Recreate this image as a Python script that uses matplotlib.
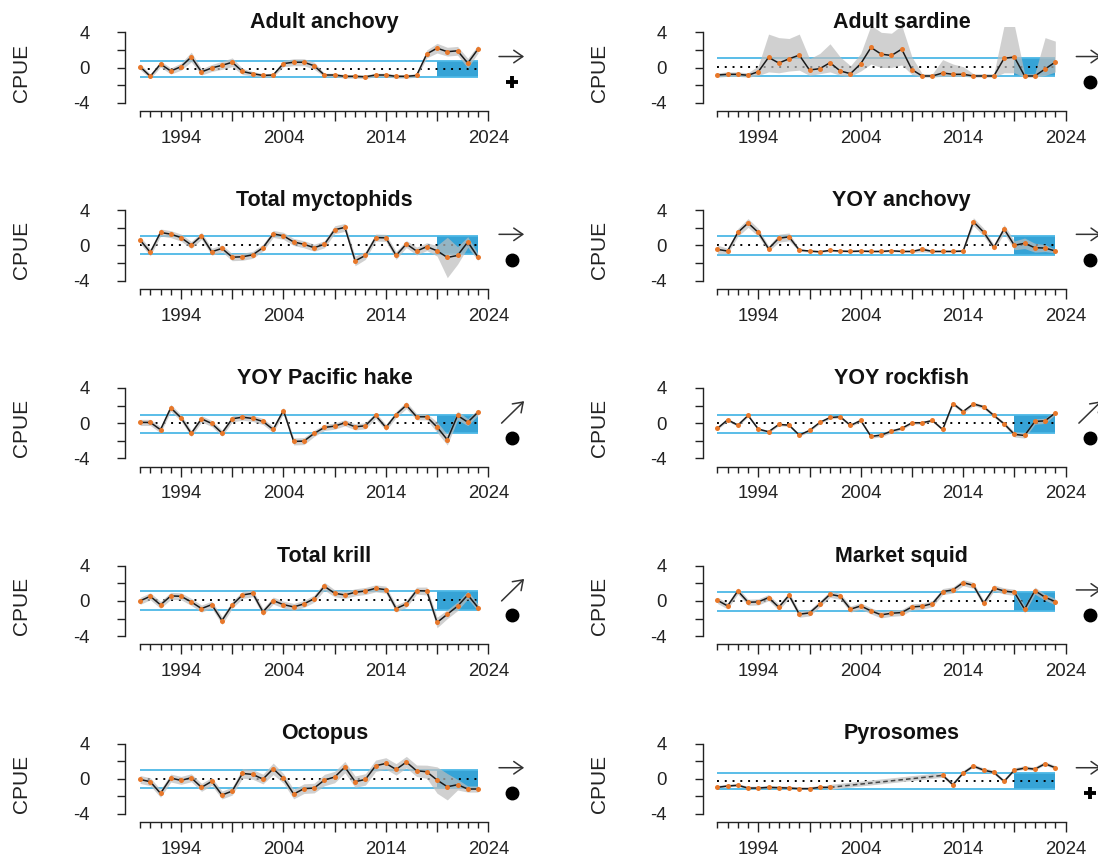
import matplotlib
matplotlib.use('Agg')
import matplotlib.pyplot as plt
import numpy as np

plt.rcParams['font.family'] = ['Liberation Sans', 'DejaVu Sans']
plt.rcParams['axes.unicode_minus'] = False

nan = np.nan
years = np.arange(1990, 2024)

titles = ['Adult anchovy', 'Adult sardine', 'Total myctophids', 'YOY anchovy',
          'YOY Pacific hake', 'YOY rockfish', 'Total krill', 'Market squid',
          'Octopus', 'Pyrosomes']

adult_anchovy = [0.1, -1.0, 0.4, -0.4, 0.1, 1.2, -0.5, -0.05, 0.25, 0.6, -0.45, -0.7, -0.9, -0.85,
                 0.45, 0.6, 0.6, 0.2, -0.85, -0.85, -1.0, -1.0, -1.05, -0.85, -0.85, -1.0, -1.0,
                 -0.9, 1.55, 2.2, 1.8, 1.9, 0.5, 2.1]
adult_sardine = [-0.85, -0.77, -0.77, -0.88, -0.47, 1.15, 0.51, 0.99, 1.41, -0.28, -0.13, 0.55,
                 -0.39, -0.7, 0.43, 2.28, 1.52, 1.37, 2.09, -0.24, -0.96, -0.96, -0.62, -0.77,
                 -0.77, -0.96, -0.96, -0.96, 1.05, 1.19, -0.96, -0.96, -0.17, 0.62]
total_myctophids = [0.62, -0.8, 1.46, 1.27, 0.88, 0.04, 1.08, -0.73, -0.35, -1.35, -1.3, -1.08,
                    -0.27, 1.3, 1.08, 0.38, 0.12, -0.27, 0.12, 1.77, 2.04, -1.77, -1.15, 0.88,
                    0.85, -1.15, 0.15, -0.65, -0.15, -0.62, -1.38, -1.15, 0.38, -1.35]
yoy_anchovy = [-0.46, -0.65, 1.46, 2.54, 1.46, -0.38, 0.81, 0.96, -0.54, -0.65, -0.73, -0.58,
               -0.65, -0.69, -0.65, -0.69, -0.69, -0.62, -0.69, -0.69, -0.46, -0.69, -0.69, -0.69,
               -0.65, 2.69, 1.5, -0.23, 1.85, 0.0, 0.23, -0.27, -0.31, -0.65]
yoy_hake = [0.08, 0.08, -0.75, 1.74, 0.6, -1.17, 0.49, -0.04, -1.13, 0.49, 0.68, 0.53, 0.19, -0.72,
            1.43, -2.08, -2.04, -1.17, -0.49, -0.34, 0.04, -0.42, -0.3, 0.87, -0.49, 0.98, 2.04,
            0.72, 0.72, -0.45, -1.89, 0.87, 0.11, 1.25]
yoy_rockfish = [-0.6, 0.38, -0.23, 0.87, -0.68, -0.98, -0.15, -0.23, -1.36, -0.83, 0.08, 0.64, 0.72,
                -0.26, 0.3, -1.51, -1.36, -0.91, -0.6, 0.04, 0.04, 0.3, -0.72, 2.23, 1.32, 2.19,
                1.85, 0.87, -0.08, -1.28, -1.4, 0.19, 0.26, 1.17]
total_krill = [0.0, 0.53, -0.45, 0.57, 0.53, -0.11, -0.87, -0.42, -2.23, -0.45, 0.68, 0.87, -1.25,
               0.04, -0.42, -0.68, -0.34, 0.26, 1.66, 0.87, 0.68, 0.98, 1.13, 1.43, 1.28, -0.87,
               -0.34, 1.17, 1.13, -2.45, -1.51, -0.6, 0.68, -0.75]
market_squid = [0.08, -0.57, 1.13, -0.15, -0.11, 0.38, -0.72, 0.64, -1.51, -1.36, -0.34, 0.75, 0.53,
                -0.94, -0.57, -1.13, -1.58, -1.4, -1.32, -0.68, -0.6, -0.3, 1.06, 1.25, 2.08, 1.77,
                -0.26, 1.47, 1.13, 0.98, -0.94, 1.17, 0.42, -0.08]
octopus = [-0.08, -0.34, -1.66, 0.08, -0.19, 0.11, -0.98, -0.3, -1.85, -1.4, 0.6, 0.49, -0.04, 1.13,
           0.04, -1.74, -1.13, -1.06, -0.15, 0.19, 1.32, -0.34, -0.08, 1.47, 1.74, 1.06, 1.89, 0.91,
           0.79, -0.15, -0.91, -0.68, -1.17, -1.17]
pyrosomes = [-0.98, -0.83, -0.75, -1.06, -1.06, -0.98, -1.02, -1.06, -1.13, -1.13, -0.98, -0.98,
             nan, nan, nan, nan, nan, nan, nan, nan, nan, nan,
             0.38, -0.68, 0.64, 1.43, 0.98, 0.72, -0.3, 0.98, 1.21, 1.09, 1.7, 1.25]

# ribbon half-widths (sardine has its own lower/upper bounds)
se_anchovy = [0.35, 0.25, 0.35, 0.35, 0.4, 0.55, 0.35, 0.4, 0.45, 0.5, 0.35, 0.25, 0.2, 0.2, 0.35,
              0.4, 0.4, 0.4, 0.2, 0.2, 0.2, 0.2, 0.2, 0.2, 0.2, 0.2, 0.2, 0.2, 0.45, 0.55,
              0.5, 0.5, 0.55, 0.45]
sardine_lo = [-1.1, -1.0, -1.0, -1.1, -0.9, -0.5, -0.6, -0.4, -0.3, -0.9, -0.7, -0.5, -0.9, -1.0,
              -0.4, 0.4, 0.0, 0.0, 0.3, -0.8, -1.1, -1.1, -1.0, -1.0, -1.0, -1.1, -1.1, -1.1, -0.6,
              -0.6, -1.1, -1.1, -0.9, -0.5]
sardine_hi = [-0.6, -0.5, -0.5, -0.6, 0.2, 3.8, 3.4, 3.3, 3.8, 1.0, 1.6, 2.7, 1.2, 0.2, 1.6, 4.8,
              4.0, 3.9, 4.8, 1.2, -0.7, -0.7, 0.9, 0.4, 0.1, -0.7, -0.7, -0.7, 4.8, 4.8, -0.7,
              -0.7, 3.4, 3.0]
se_myctophids = [0.4, 0.4, 0.4, 0.4, 0.4, 0.4, 0.4, 0.4, 0.4, 0.4, 0.4, 0.4, 0.4, 0.4,
                 0.4, 0.4, 0.4, 0.4, 0.4, 0.45, 0.45, 0.55, 0.45, 0.4, 0.4, 0.45, 0.4, 0.45, 0.45,
                 0.6, 2.3, 1.0, 0.6, 0.4]
se_yoy_anchovy = [0.5, 0.3, 0.45, 0.5, 0.45, 0.3, 0.45, 0.45, 0.15, 0.1, 0.1, 0.1, 0.1, 0.1, 0.1,
                  0.1, 0.1, 0.1, 0.1, 0.1, 0.3, 0.1, 0.1, 0.1, 0.1, 0.45, 0.45, 0.3, 0.5, 0.5,
                  0.6, 0.5, 0.4, 0.2]
se_hake = [0.35, 0.35, 0.35, 0.4, 0.35, 0.35, 0.35, 0.35, 0.35, 0.35, 0.35, 0.35, 0.35, 0.35, 0.35,
           0.4, 0.4, 0.35, 0.35, 0.35, 0.35, 0.35, 0.35, 0.35, 0.35, 0.35, 0.4, 0.35, 0.35, 0.6,
           0.6, 0.5, 0.4, 0.35]
se_rockfish = [0.15, 0.15, 0.15, 0.15, 0.15, 0.15, 0.15, 0.15, 0.15, 0.15, 0.15, 0.15, 0.15, 0.15,
               0.15, 0.2, 0.2, 0.2, 0.15, 0.15, 0.15, 0.15, 0.15, 0.2, 0.2, 0.2, 0.2, 0.2, 0.2,
               0.3, 0.3, 0.3, 0.3, 0.2]
se_krill = [0.4, 0.4, 0.4, 0.4, 0.4, 0.4, 0.4, 0.4, 0.45, 0.4, 0.4, 0.4, 0.4, 0.4,
            0.4, 0.4, 0.4, 0.4, 0.45, 0.4, 0.4, 0.4, 0.4, 0.4, 0.4, 0.4, 0.4, 0.4,
            0.45, 0.6, 0.5, 0.5, 0.45, 0.4]
se_squid = [0.35, 0.35, 0.35, 0.35, 0.35, 0.35, 0.35, 0.35, 0.35, 0.35, 0.35, 0.35, 0.35, 0.35,
            0.35, 0.35, 0.35, 0.35, 0.35, 0.35, 0.35, 0.35, 0.35, 0.35, 0.35, 0.35, 0.35, 0.35,
            0.35, 0.35, 0.4, 0.4, 0.35, 0.35]
se_octopus = [0.45, 0.45, 0.45, 0.45, 0.45, 0.45, 0.45, 0.45, 0.45, 0.45, 0.55, 0.55, 0.55, 0.65,
              0.55, 0.55, 0.55, 0.55, 0.65, 0.65, 0.65, 0.65, 0.65, 0.65, 0.65, 0.65, 0.65, 0.65,
              0.75, 1.5, 1.5, 0.6, 0.35, 0.35]
se_pyrosomes = [0.15, 0.15, 0.15, 0.15, 0.15, 0.15, 0.15, 0.15, 0.15, 0.15, 0.15, 0.15,
                nan, nan, nan, nan, nan, nan, nan, nan, nan, nan,
                0.2, 0.2, 0.2, 0.2, 0.2, 0.2, 0.2, 0.2, 0.2, 0.2, 0.2, 0.2]

mean_line = [-0.19, 0.06, 0.0, 0.05, 0.0, 0.0, 0.08, 0.0, 0.0, -0.23]
sd_upper = [0.74, 1.07, 1.08, 1.08, 0.98, 0.98, 1.13, 1.06, 0.98, 0.68]
sd_lower = [-1.07, -0.96, -1.04, -1.12, -1.13, -1.09, -0.98, -1.13, -1.02, -1.17]
trend = ['flat', 'flat', 'flat', 'flat', 'up', 'up', 'up', 'flat', 'flat', 'flat']
status = ['plus', 'dot', 'dot', 'dot', 'dot', 'dot', 'dot', 'dot', 'dot', 'plus']

series = [adult_anchovy, adult_sardine, total_myctophids, yoy_anchovy, yoy_hake,
          yoy_rockfish, total_krill, market_squid, octopus, pyrosomes]
ses = [se_anchovy, None, se_myctophids, se_yoy_anchovy, se_hake, se_rockfish,
       se_krill, se_squid, se_octopus, se_pyrosomes]

box_blue = '#36A3D6'
line_blue = '#4CB7E6'
orange = '#E8782A'
W, H = 1098, 858

fig = plt.figure(figsize=(W / 100, H / 100), dpi=100)


def add_px_axes(left, top, right, bottom):
    return fig.add_axes([left / W, 1 - bottom / H, (right - left) / W, (bottom - top) / H])


for i, name in enumerate(titles):
    row, col = i // 2, i % 2
    dx, dy = 577.3 * col, 177.8 * row
    ax = add_px_axes(125.3 + dx, 26.7 + dy, 523.5 + dx, 111 + dy)
    ax.set_xlim(1988.56, 2027.44)
    ax.set_ylim(-4.94, 4.64)

    v = np.array(series[i], dtype=float)
    if ses[i] is None:
        lo, hi = np.array(sardine_lo), np.array(sardine_hi)
    else:
        s = np.array(ses[i], dtype=float)
        lo, hi = v - s, v + s

    ax.fill_between([2019, 2023], sd_lower[i], sd_upper[i], color=box_blue, lw=0, zorder=1)
    ax.hlines([sd_upper[i], sd_lower[i]], 1990, 2023, color=line_blue, lw=1.3, zorder=2)
    ax.hlines(mean_line[i], 1990, 2023, color='black', lw=1.4, linestyles=(0, (1, 3)), zorder=3)
    ax.fill_between(years, lo, hi, color='#bdbdbd', alpha=0.7, lw=0, zorder=4)

    ok = ~np.isnan(v)
    gap = np.where(np.diff(ok.astype(int)) != 0)[0]
    if len(gap) == 2:
        a, b = gap[0], gap[1] + 1
        ax.plot([years[a], years[b]], [v[a], v[b]], color='#cfcfcf', lw=3.5, zorder=4)
        ax.plot([years[a], years[b]], [v[a], v[b]], color='#444444', lw=1.1,
                ls=(0, (3, 2)), zorder=5)
    ax.plot(years, v, color='#1a1a1a', lw=1.1, zorder=6)
    ax.plot(years, v, 'o', color=orange, ms=3.6, mec='none', zorder=7)

    # trend arrow and status symbol
    if trend[i] == 'flat':
        start, end = (2025.05, 1.25), (2027.5, 1.25)
    else:
        start, end = (2025.3, 0.0), (2027.5, 2.5)
    ax.annotate('', xy=end, xytext=start, annotation_clip=False,
                arrowprops=dict(arrowstyle='->,head_length=0.65,head_width=0.45',
                                lw=1.1, color='#333333', shrinkA=0, shrinkB=0,
                                mutation_scale=10))
    if status[i] == 'dot':
        ax.plot(2026.35, -1.65, 'o', ms=9, color='black', clip_on=False)
    else:
        ax.plot(2026.35, -1.65, marker='+', ms=9, mew=2.8, color='black', clip_on=False)

    for side in ['top', 'right']:
        ax.spines[side].set_visible(False)
    ax.spines['left'].set_bounds(-4, 4)
    ax.spines['bottom'].set_bounds(1990, 2024)
    for side in ['left', 'bottom']:
        ax.spines[side].set_linewidth(1.0)
        ax.spines[side].set_color('#222222')

    ax.set_yticks([-4, -2, 0, 2, 4])
    ax.set_yticklabels(['-4', '', '0', '', '4'])
    ax.set_xticks([1994, 1999, 2004, 2009, 2014, 2019, 2024])
    ax.set_xticklabels(['1994', '', '2004', '', '2014', '', '2024'])
    ax.set_xticks(np.arange(1990, 2025), minor=True)
    ax.tick_params(axis='y', direction='out', length=5.8, width=1.0, pad=20,
                   labelsize=13.4, colors='#222222')
    ax.tick_params(axis='x', which='major', direction='out', length=7.0, width=1.0,
                   pad=6.5, labelsize=13.4, colors='#222222')
    ax.tick_params(axis='x', which='minor', direction='out', length=4.5, width=1.0,
                   colors='#222222')

    fig.text((324.4 + dx) / W, 1 - (28.3 + dy) / H, name, ha='center', va='baseline',
             fontsize=15.5, fontweight='bold', color='#111111')
    fig.text((21.7 + dx) / W, 1 - (72.5 + dy) / H, 'CPUE', ha='center', va='center',
             rotation=90, fontsize=15, color='#222222')

fig.savefig('out.png', dpi=100)
